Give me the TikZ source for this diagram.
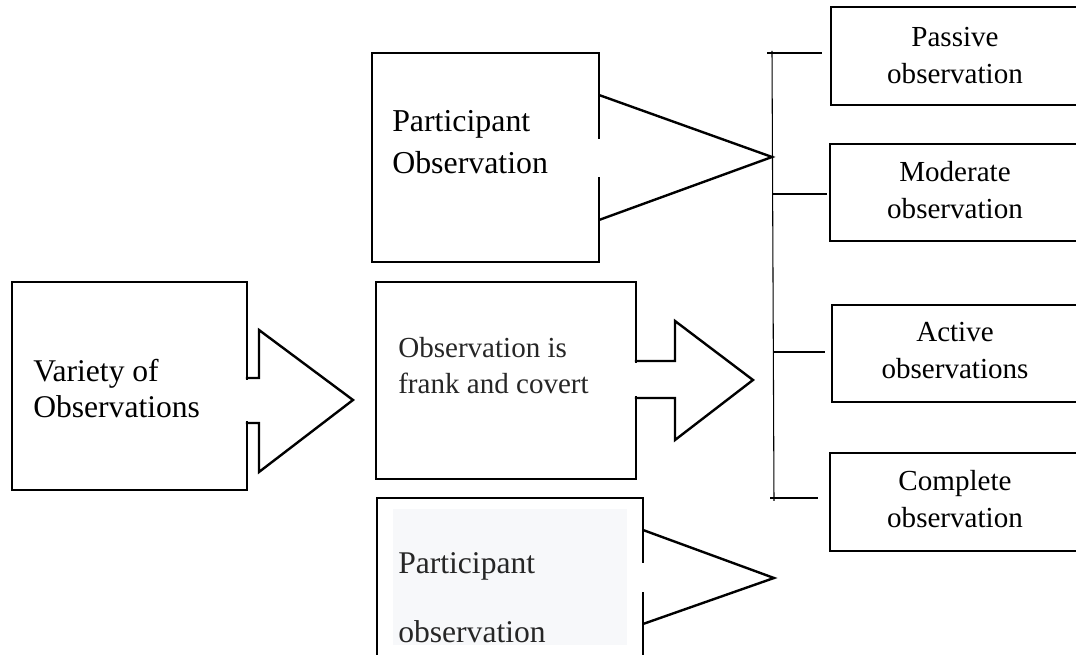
\documentclass[tikz,border=0pt]{standalone}
\usepackage{fontspec}
\setmainfont{Liberation Serif}
\usetikzlibrary{fit,calc}
\definecolor{txtgray}{HTML}{262626}
\definecolor{panel}{HTML}{F7F8FA}
\begin{document}
\begin{tikzpicture}[x=0.75pt,y=-0.75pt,
  box/.style={draw=black, line width=1.8pt, inner sep=0pt, fit={#1}},
  arrowline/.style={draw=black, line width=1.8pt, line join=miter, line cap=rect},
  gapfill/.style={fill=white},
  brline/.style={draw=black, line width=0.8pt},
  txt/.style={inner sep=0pt, anchor=base west},
  ctxt/.style={inner sep=0pt, anchor=base},
  bigA/.style={font=\fontsize{23.7pt}{27pt}\selectfont},
  bigB/.style={font=\fontsize{23.9pt}{31.1pt}\selectfont},
  bigC/.style={font=\fontsize{23.7pt}{51.75pt}\selectfont, text=txtgray},
  midA/.style={font=\fontsize{21.8pt}{27pt}\selectfont, text=txtgray},
  midB/.style={font=\fontsize{21.8pt}{27.6pt}\selectfont}
]
\useasboundingbox (0,0) rectangle (1076,655);

% ---------- left box: Variety of Observations ----------
\node[box={(12,282) (247,490)}] (L) {};
\fill[gapfill] (245,380) rectangle (249.5,421);
\draw[arrowline] (247,378) -- (259,378) -- (259,330) -- (353,400)
  -- (259,472) -- (259,423) -- (247,423);
\node[txt, bigA] (tL) at (33,382) {\parbox[t]{200pt}{Variety of\\Observations}};

% ---------- top middle box ----------
\node[box={(372,53) (599,262)}] (PO) {};
\fill[gapfill] (596.5,139) rectangle (601.5,177);
\draw[arrowline, line cap=butt] (599,95) -- (772,157) -- (599,220);
\node[txt, bigB] (tPO) at (392,132) {\parbox[t]{200pt}{Participant\\Observation}};

% ---------- middle box ----------
\node[box={(376,282) (636,479)}] (OB) {};
\fill[gapfill] (633.5,363) rectangle (638.5,396);
\draw[arrowline] (636,361) -- (675,361) -- (675,321) -- (753,380)
  -- (675,440) -- (675,398) -- (636,398);
\node[txt, midA] (tOB) at (398,358) {\parbox[t]{200pt}{Observation is\\frank and covert}};

% ---------- bottom middle box ----------
\node[box={(377,498) (643,700)}] (BP) {};
\fill[panel] (393,509) rectangle (627,645);
\fill[gapfill] (640.5,563) rectangle (645.5,592);
\draw[arrowline, line cap=butt] (643,530) -- (774,578) -- (643,624);
\node[txt, bigC] (tBP) at (398,574) {\parbox[t]{200pt}{Participant\\observation}};

% ---------- right boxes ----------
\node[box={(831,7) (1082,105)}] (PA) {};
\node[box={(830,144) (1082,241)}] (MO) {};
\node[box={(832,305) (1082,402)}] (AC) {};
\node[box={(830,453) (1082,551)}] (CO) {};
\node[ctxt, midB] (tPA) at (955,47) {\parbox[t]{180pt}{\centering Passive\\observation}};
\node[ctxt, midB] (tMO) at (955,182) {\parbox[t]{180pt}{\centering Moderate\\observation}};
\node[ctxt, midB] (tAC) at (955,342) {\parbox[t]{180pt}{\centering Active\\observations}};
\node[ctxt, midB] (tCO) at (955,491) {\parbox[t]{180pt}{\centering Complete\\observation}};

% ---------- bracket ----------
\coordinate (bt) at (772,51);
\coordinate (bb) at (774,501);
\coordinate (b1) at (767,53);
\coordinate (b2) at (772.5,194);
\coordinate (b3) at (773.5,352);
\coordinate (b4) at (770,498);
\draw[brline] (bt) -- (bb);
\draw[brline] (b1) -- ($(PA.west |- b1)+(-8,0)$);
\draw[brline] (b2) -- ($(MO.west |- b2)+(-2,0)$);
\draw[brline] (b3) -- ($(AC.west |- b3)+(-6,0)$);
\draw[brline] (b4) -- ($(CO.west |- b4)+(-11,0)$);
\end{tikzpicture}
\end{document}
